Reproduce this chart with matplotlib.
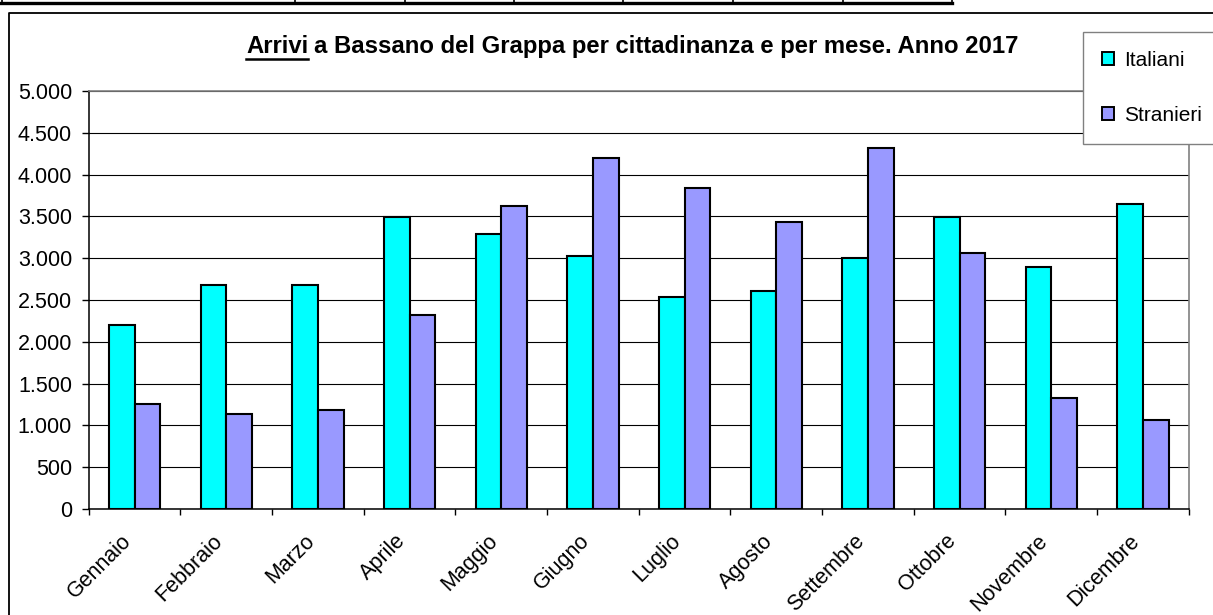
import numpy as np
import matplotlib
matplotlib.use("Agg")
import matplotlib.pyplot as plt
from matplotlib.lines import Line2D
from matplotlib.patches import Patch
from matplotlib.ticker import FuncFormatter
from matplotlib.transforms import ScaledTranslation

mesi = ["Gennaio", "Febbraio", "Marzo", "Aprile", "Maggio", "Giugno",
        "Luglio", "Agosto", "Settembre", "Ottobre", "Novembre", "Dicembre"]
italiani = [2200, 2680, 2680, 3490, 3290, 3030, 2530, 2610, 3000, 3490, 2890, 3650]
stranieri = [1255, 1140, 1185, 2320, 3625, 4195, 3840, 3435, 4315, 3060, 1325, 1065]
yticks = [0, 500, 1000, 1500, 2000, 2500, 3000, 3500, 4000, 4500, 5000]

W, H = 1213, 615
plt.rcParams['font.family'] = ['Liberation Sans', 'DejaVu Sans']

fig = plt.figure(figsize=(W / 100, H / 100), dpi=100)
ax = fig.add_axes([88.7 / W, 1 - 509 / H, (1188.7 - 88.7) / W, (509 - 91) / H])

def px(x, y):
    # pixel coords (top-left origin) -> figure fraction
    return x / W, 1 - y / H

# spreadsheet strip at the very top + chart frame
fig.add_artist(Line2D([0, 952 / W], [1 - 3 / H] * 2, color='black', lw=2.4))
for xv in [1.5, 295, 405, 514, 623, 733, 843, 952]:
    fig.add_artist(Line2D([xv / W] * 2, [1, 1 - 4 / H], color='black', lw=1.2))
fig.add_artist(Line2D([9 / W, 9 / W, 1], [0, 1 - 13 / H, 1 - 13 / H], color='black', lw=1.3))

x = np.arange(len(mesi))
bw = 0.28
ax.bar(x - bw / 2, italiani, bw, color='#00FFFF', edgecolor='black', linewidth=1.5,
       label='Italiani', zorder=3)
ax.bar(x + bw / 2, stranieri, bw, color='#9999FF', edgecolor='black', linewidth=1.5,
       label='Stranieri', zorder=3)

ax.set_xlim(-0.5, len(mesi) - 0.5)
ax.set_ylim(0, 5000)
ax.set_yticks(yticks)
ax.yaxis.set_major_formatter(FuncFormatter(lambda v, p: f"{int(v):,}".replace(",", ".")))
ax.grid(axis='y', color='black', lw=0.8, zorder=0)

ax.set_xticks(x)
ax.set_xticklabels(mesi, rotation=45, ha='right', rotation_mode='anchor', fontsize=15.5)
ax.set_xticks(np.arange(len(mesi) + 1) - 0.5, minor=True)
ax.tick_params(axis='x', which='major', length=0, pad=15.5)
ax.tick_params(axis='x', which='minor', length=4.5, width=1, direction='out')
ax.tick_params(axis='y', length=5, width=1, direction='out', labelsize=15.5, pad=7)
shift = ScaledTranslation(-14 / 100, 0, fig.dpi_scale_trans)
for lab in ax.get_xticklabels():
    lab.set_transform(lab.get_transform() + shift)

for s in ['left', 'bottom']:
    ax.spines[s].set_color('black')
    ax.spines[s].set_linewidth(1.1)
for s in ['right', 'top']:
    ax.spines[s].set_color('#808080')
    ax.spines[s].set_linewidth(1.2)

# title with underlined first word
fig.canvas.draw()
r = fig.canvas.get_renderer()
tx, ty = px(246, 53)
t1 = fig.text(tx, ty, "Arrivi", fontsize=17.2, fontweight='bold', va='baseline', ha='left')
bb = t1.get_window_extent(renderer=r)
fig.text(bb.x1 / W + 6 / W, ty, "a Bassano del Grappa per cittadinanza e per mese. Anno 2017",
         fontsize=17.2, fontweight='bold', va='baseline', ha='left')
fig.add_artist(Line2D([bb.x0 / W, bb.x1 / W], [1 - 59 / H] * 2, color='black', lw=1.8))

handles = [Patch(facecolor='#00FFFF', edgecolor='black', lw=1.4, label='Italiani'),
           Patch(facecolor='#9999FF', edgecolor='black', lw=1.4, label='Stranieri')]
leg = fig.legend(handles=handles, loc='upper left', bbox_to_anchor=px(1083, 32),
                 fontsize=15, frameon=True, fancybox=False, framealpha=1,
                 edgecolor='#808080', borderpad=0.9, labelspacing=1.75,
                 handlelength=0.58, handleheight=0.58, handletextpad=0.48,
                 borderaxespad=0)
leg.get_frame().set_linewidth(1.0)

fig.savefig("out.png", dpi=100)
